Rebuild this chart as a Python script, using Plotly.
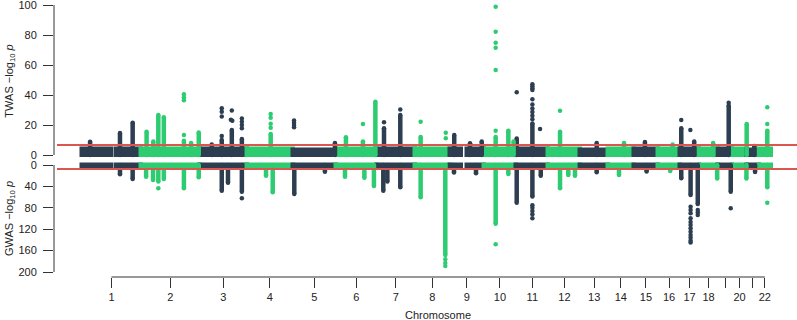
import plotly.graph_objects as go

# ---------------- data ----------------
chrom_len = [249.25, 243.20, 198.02, 191.15, 180.92, 171.12, 159.14, 146.36, 141.21,
             135.53, 135.01, 133.85, 115.17, 107.35, 102.53, 90.35, 81.20, 78.08,
             59.13, 63.03, 48.13, 51.30]
tick_labels = ["1", "2", "3", "4", "5", "6", "7", "8", "9", "10", "11", "12", "13",
               "14", "15", "16", "17", "18", "", "20", "", "22"]

# height of the dense cloud of non-significant genes per chromosome
twas_band = [4, 4, 4, 4, 3.6, 4, 4, 4, 4, 4, 4, 4, 3.6, 3.8, 3.8, 4, 4, 3.8, 4, 4, 3.6, 4]
gwas_band = [3] * 22
gap_chrom = [1, 9]
gap_start = [121, 45]
gap_end = [145, 71]

twas_threshold = 6.7
gwas_threshold = 7.3

# TWAS columns: chromosome, position (Mb), top value
twas_col_chrom = [1, 1, 1, 2, 2, 2, 2, 2, 2, 2, 3, 3, 3, 3, 4, 5, 6, 6, 6, 7, 7, 8, 9, 9, 9,
                  10, 10, 10, 11, 11, 12, 13, 14, 15, 16, 17, 17, 18, 19, 20, 21, 22]
twas_col_pos = [35, 160, 213, 22, 50, 71, 94, 178, 208, 240, 51, 93, 135, 177, 99.5, 177, 42,
                113, 165, 30, 98, 24, 18, 84, 133, 50, 103, 125, 2.5, 68, 48.5, 68, 67, 47,
                60, 6, 60, 58, 45, 61, 30, 36]
twas_col_top = [8.9, 14.6, 21.5, 15.5, 9, 26.7, 25.1, 9.5, 8, 15, 7, 10, 16.7, 10.7, 14, 8,
                11.8, 9, 35.5, 17.8, 26.7, 12, 13.3, 7.8, 9, 12, 16.2, 9, 11, 21, 15.5, 8, 8,
                8.7, 7, 17.8, 9, 8, 33, 20.7, 6, 16.2]

# TWAS isolated points
twas_dot_chrom = [2, 2, 2, 2, 3, 3, 3, 3, 3, 3, 3, 3, 3, 3, 3, 4, 4, 4, 4, 5, 5, 5, 5, 6, 7,
                  7, 8, 8, 8, 10, 10, 10, 10, 10, 10, 11, 11, 11, 11, 11, 11, 11, 11, 11, 11,
                  11, 11, 12, 17, 17, 19, 22, 22]
twas_dot_pos = [178, 178, 178, 178, 93, 93, 93, 93, 135, 131, 137, 177, 177, 177, 177, 99.5,
                99.5, 99.5, 99.5, 6, 6, 6, 6, 113, 30, 98, 24, 129, 129, 50, 50, 50, 50, 50,
                50, 2.5, 68, 68, 68, 68, 68, 68, 68, 68, 68, 68, 100, 48.5, 6, 44, 45, 36, 36]
twas_dot_val = [40.5, 38.5, 36.5, 13.3, 31.1, 28.9, 25.6, 12.7, 29.6, 23.5, 22.8, 24.4, 22.2,
                20, 17.8, 27.3, 24.9, 20.9, 18.2, 23, 21.5, 20, 18.5, 20.7, 21.8, 30.4, 22.2,
                14.9, 11.1, 98.9, 82.2, 74.9, 71.5, 56.7, 16.2, 41.8, 47.1, 45.8, 44.5, 43.3,
                37.1, 33.6, 31.0, 28.6, 26.1, 23.8, 17.3, 29.5, 23.3, 16.7, 34.9, 31.8, 20.7]

# GWAS columns
gwas_col_chrom = [1, 1, 2, 2, 2, 2, 2, 2, 3, 3, 3, 4, 4, 5, 5, 6, 6, 6, 7, 7, 7, 8, 8, 9, 9,
                  10, 10, 11, 11, 11, 12, 12, 12, 13, 14, 15, 16, 17, 17, 17, 18, 19, 20, 21, 22]
gwas_col_pos = [160, 213, 20, 49, 71, 94, 178, 240, 93, 119, 177, 80, 108, 7, 135, 38, 119,
                159, 27, 44, 98, 24, 127, 17, 109, 50, 103, 2.5, 68, 103, 48.5, 83, 111, 68,
                46, 54, 50, 6, 45, 75, 75, 53.5, 60, 33, 36]
gwas_col_top = [17.4, 26.2, 21.8, 28, 31, 26, 43.6, 23, 48, 33, 49.8, 19.9, 51, 54.2, 12.5,
                21.8, 24, 39.3, 48, 31, 41.7, 60.4, 168, 14, 15.6, 110, 16.8, 70.4, 59, 20,
                43.6, 18.7, 20, 13.7, 18.7, 12, 11, 24.9, 56, 72.9, 25, 49.8, 25, 13, 41.7]

# GWAS isolated points
gwas_dot_chrom = [2, 3, 8, 8, 8, 10, 11, 11, 11, 11, 11, 17, 17, 17, 17, 17, 17, 17, 17, 17,
                  17, 17, 17, 17, 17, 17, 19, 22]
gwas_dot_pos = [71, 177, 127, 127, 127, 50, 68, 68, 68, 68, 68, 45, 45, 45, 45, 45, 45, 45, 45,
                45, 45, 45, 45, 75, 75, 75, 53.5, 36]
gwas_dot_val = [43.6, 62.3, 176, 183, 189, 148, 75, 80, 86, 92, 99.7, 78, 84, 90, 99.7, 106.5,
                112, 118, 124.7, 131, 136, 141.5, 145, 84, 89, 93.5, 81, 70.4]

twas_ticks = [0, 20, 40, 60, 80, 100]
gwas_ticks = [0, 40, 80, 120, 160, 200]

# ---------------- style / layout constants ----------------
DARK = "#2c3e50"
GREEN = "#2ecc71"
RED = "#d9574f"
AXIS = "#333333"
FONT = "Liberation Sans, Arial, Helvetica, sans-serif"
MS = 4.5  # marker diameter (px)

W, H = 797, 320
PLOT_L, PLOT_R, PLOT_T, PLOT_B = 54, 797, 2, 277
X0_PX, PX_PER_MB = 81.7, 1 / 4.18
TOP_ZERO_PX, TOP_MAX_PX = 155, 5
SPLIT_PX = 160
BOT_ZERO_PX, BOT_MAX_PX = 165, 272

cum_start = []
acc = 0.0
for L in chrom_len:
    cum_start.append(acc)
    acc += L
centers = [cs + L / 2 for cs, L in zip(cum_start, chrom_len)]


def colour(ch):
    return DARK if ch % 2 == 1 else GREEN


def gx(ch, pos):
    return cum_start[ch - 1] + pos


fig = go.Figure()

# ---- dense bands ----
segs = []
for i, L in enumerate(chrom_len):
    ch = i + 1
    if ch in gap_chrom:
        k = gap_chrom.index(ch)
        segs.append((ch, 0, gap_start[k]))
        segs.append((ch, gap_end[k], L))
    else:
        segs.append((ch, 0, L))

for band, yax in ((twas_band, "y"), (gwas_band, "y2")):
    fig.add_trace(go.Bar(
        x=[gx(ch, (a + b) / 2) for ch, a, b in segs],
        width=[b - a for ch, a, b in segs],
        y=[band[ch - 1] for ch, a, b in segs],
        base=0,
        marker=dict(color=[colour(ch) for ch, a, b in segs],
                    line=dict(color=[colour(ch) for ch, a, b in segs], width=MS)),
        xaxis="x", yaxis=yax, hoverinfo="skip", showlegend=False,
    ))

# ---- columns and dots ----
def add_columns(chroms, poss, tops, yax):
    for col in (DARK, GREEN):
        xs, ys = [], []
        for ch, p, t in zip(chroms, poss, tops):
            if colour(ch) != col:
                continue
            xs += [gx(ch, p), gx(ch, p), None]
            ys += [0, t, None]
        fig.add_trace(go.Scatter(x=xs, y=ys, mode="lines+markers",
                                 line=dict(color=col, width=MS),
                                 marker=dict(color=col, size=MS),
                                 xaxis="x", yaxis=yax, hoverinfo="skip",
                                 showlegend=False, cliponaxis=False))


def add_dots(chroms, poss, vals, yax):
    for col in (DARK, GREEN):
        xs = [gx(ch, p) for ch, p in zip(chroms, poss) if colour(ch) == col]
        ys = [v for ch, v in zip(chroms, vals) if colour(ch) == col]
        fig.add_trace(go.Scatter(x=xs, y=ys, mode="markers",
                                 marker=dict(color=col, size=MS),
                                 xaxis="x", yaxis=yax, hoverinfo="skip",
                                 showlegend=False, cliponaxis=False))


add_columns(twas_col_chrom, twas_col_pos, twas_col_top, "y")
add_dots(twas_dot_chrom, twas_dot_pos, twas_dot_val, "y")
add_columns(gwas_col_chrom, gwas_col_pos, gwas_col_top, "y2")
add_dots(gwas_dot_chrom, gwas_dot_pos, gwas_dot_val, "y2")

# ---------------- axes ----------------
x_range = [(PLOT_L - X0_PX) / PX_PER_MB, (PLOT_R - X0_PX) / PX_PER_MB]
top_scale = (TOP_ZERO_PX - TOP_MAX_PX) / twas_ticks[-1]
top_range = [-(SPLIT_PX - TOP_ZERO_PX) / top_scale,
             twas_ticks[-1] + (TOP_MAX_PX - PLOT_T) / top_scale]
bot_scale = (BOT_MAX_PX - BOT_ZERO_PX) / gwas_ticks[-1]
bot_range = [(PLOT_B - BOT_ZERO_PX) / bot_scale, -(BOT_ZERO_PX - SPLIT_PX) / bot_scale]
split = (PLOT_B - SPLIT_PX) / (PLOT_B - PLOT_T)


def xfrac(v):
    return (v - x_range[0]) / (x_range[1] - x_range[0])


tick_common = dict(ticks="outside", ticklen=10, tickwidth=1, tickcolor=AXIS,
                   showgrid=False, zeroline=False, showline=False,
                   ticklabeloverflow="allow",
                   tickfont=dict(family=FONT, size=11, color="#222222"))

fig.update_layout(
    width=W, height=H,
    margin=dict(l=PLOT_L, r=W - PLOT_R, t=PLOT_T, b=H - PLOT_B, autoexpand=False),
    paper_bgcolor="white", plot_bgcolor="white",
    barmode="overlay", bargap=0,
    font=dict(family=FONT, size=11, color="#222222"),
    xaxis=dict(domain=[0, 1], range=x_range, anchor="y2",
               tickvals=centers, ticktext=tick_labels, **tick_common),
    yaxis=dict(domain=[split, 1], range=top_range, anchor="x",
               tickvals=twas_ticks, ticklabelstandoff=4,
               title=dict(text="TWAS \u2212log<sub>10</sub> <i>p</i>",
                          font=dict(family=FONT, size=11), standoff=2),
               **tick_common),
    yaxis2=dict(domain=[0, split], range=bot_range, anchor="x",
                tickvals=gwas_ticks, ticklabelstandoff=4,
                title=dict(text="GWAS \u2212log<sub>10</sub> <i>p</i>",
                           font=dict(family=FONT, size=11), standoff=2),
                **tick_common),
)

line_style = dict(color=AXIS, width=1)
shapes = [
    dict(type="line", xref="paper", yref="y", x0=0, x1=0, y0=twas_ticks[0], y1=twas_ticks[-1],
         line=line_style, layer="above"),
    dict(type="line", xref="paper", yref="y2", x0=0, x1=0, y0=gwas_ticks[0], y1=gwas_ticks[-1],
         line=line_style, layer="above"),
    dict(type="line", xref="paper", yref="paper", x0=xfrac(centers[0]), x1=xfrac(centers[-1]),
         y0=0, y1=0, line=line_style, layer="above"),
    dict(type="line", xref="paper", yref="y", x0=3 / (PLOT_R - PLOT_L), x1=1,
         y0=twas_threshold, y1=twas_threshold, line=dict(color=RED, width=2), layer="above"),
    dict(type="line", xref="paper", yref="y2", x0=3 / (PLOT_R - PLOT_L), x1=1,
         y0=gwas_threshold, y1=gwas_threshold, line=dict(color=RED, width=2), layer="above"),
]
fig.update_layout(shapes=shapes)

fig.add_annotation(text="Chromosome", xref="x", yref="paper",
                   x=(centers[0] + centers[-1]) / 2, y=0, yanchor="middle",
                   yshift=-37.5, showarrow=False, font=dict(family=FONT, size=11))

fig.write_html("out.html", config={"displayModeBar": False},
               post_script="document.body.style.margin='0';document.body.style.padding='0';")
